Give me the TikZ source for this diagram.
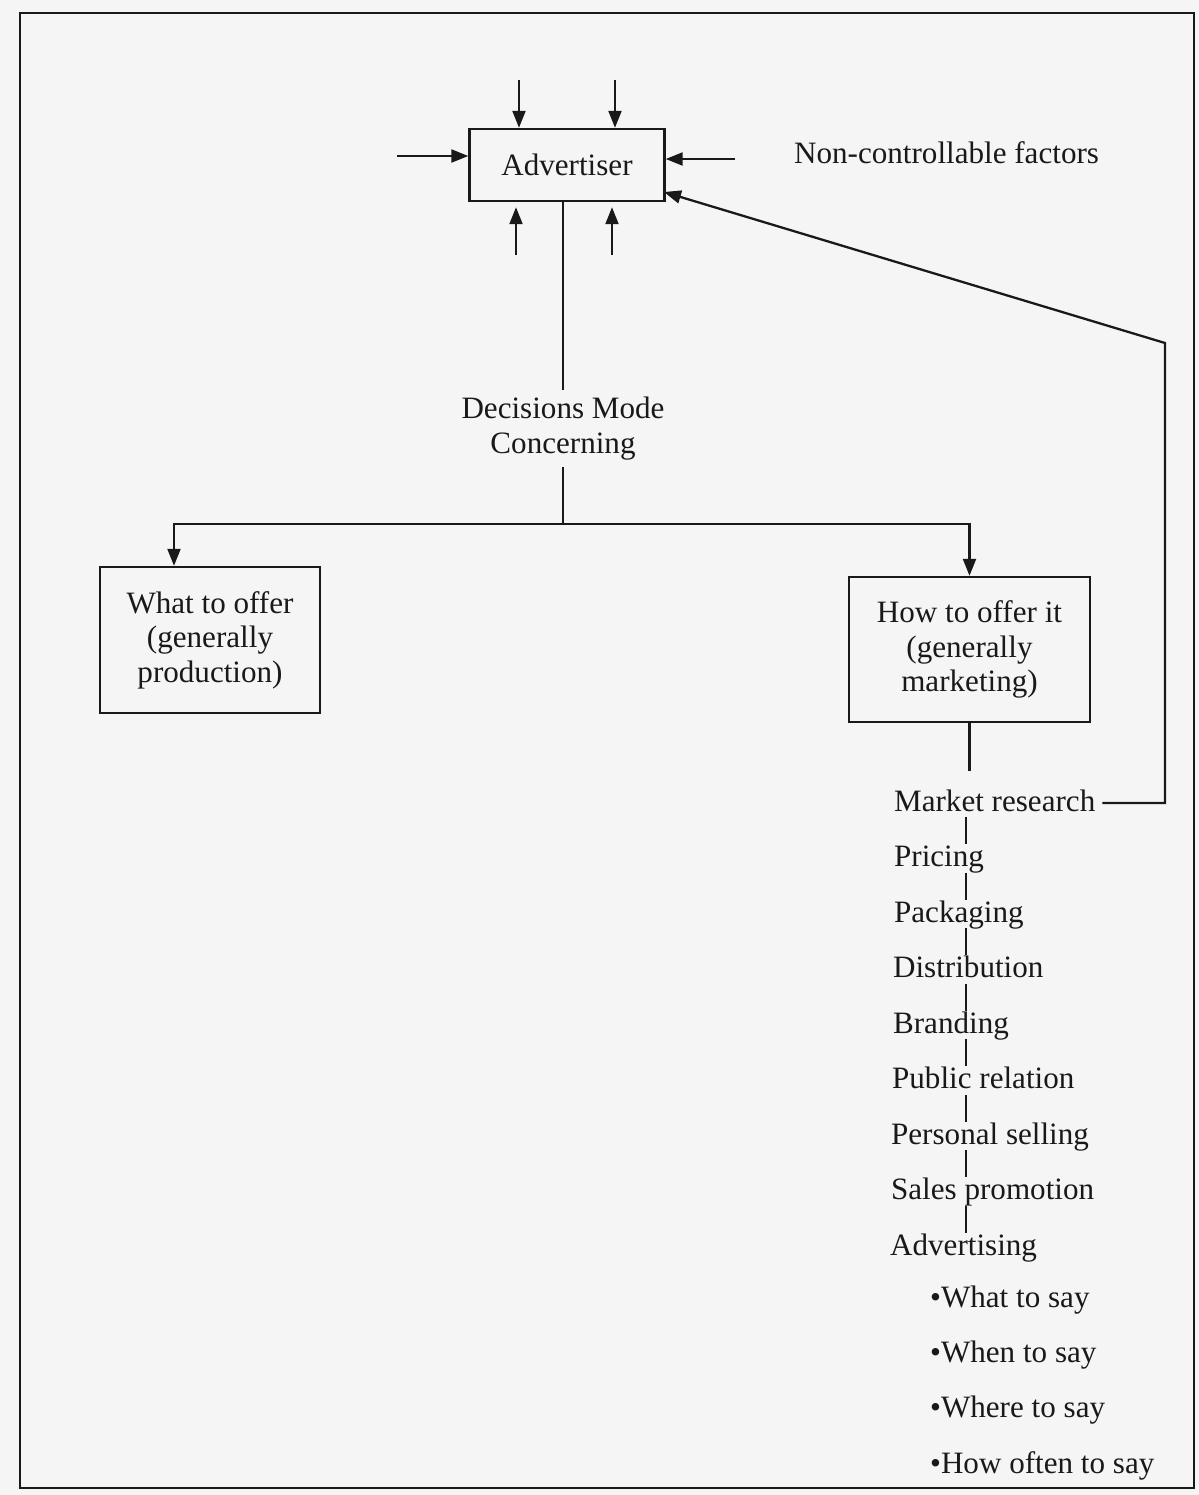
\documentclass[tikz,border=0pt]{standalone}
\usepackage{fontspec}
\setmainfont{Liberation Serif}
\usetikzlibrary{arrows.meta}

\tikzset{
  box/.style={draw, line width=1.4pt, align=center, inner sep=0pt},
  item/.style={anchor=base west, inner sep=0pt, text height=12pt, text depth=3pt},
  arr/.style={-{Triangle[length=0.34cm,width=0.26cm]}},
}

\begin{document}
\begin{tikzpicture}[x=0.02cm, y=-0.02cm, line width=1.3pt, color=black!90,
  font=\fontsize{17.7}{19.6}\selectfont]

\fill[black!4] (0,0) rectangle (1199,1495);
\useasboundingbox (0,0) rectangle (1199,1495);
\draw[line width=1.1pt] (20,13) rectangle (1194,1488);

\node[box, minimum width=3.9cm, minimum height=1.44cm] (adv) at (567,165) {Advertiser};
\node[anchor=west, inner sep=0pt] (ncf) at (793,153) {Non-controllable factors};

\coordinate (t1) at (519,80);
\coordinate (t2) at (615,80);
\coordinate (l1) at (397,156);
\coordinate (r1) at (735,159);
\coordinate (b1) at (516,255);
\coordinate (b2) at (612,255);

\draw[arr] (t1) -- (t1 |- adv.north);
\draw[arr] (t2) -- (t2 |- adv.north);
\draw[arr] (l1) -- (l1 -| adv.west);
\draw[arr] (r1) -- (r1 -| adv.east);
\draw[arr, shorten >=0.1cm] (b1) -- (b1 |- adv.south);
\draw[arr, shorten >=0.1cm] (b2) -- (b2 |- adv.south);

\node[align=center, inner sep=3.5pt] (dec) at (563,428.5) {Decisions Mode\\Concerning};
\draw (adv.south -| dec.north) -- (dec.north);

\coordinate (jn) at (563,524);
\coordinate (jl) at (174,524);

\node[box, minimum width=4.4cm, minimum height=2.92cm] (what) at (210,640) {What to offer\\(generally\\production)};
\node[box, minimum width=4.82cm, minimum height=2.9cm] (how) at (969.5,649.5) {How to offer it\\(generally\\marketing)};

\draw (dec.south) -- (jn);
\draw[arr] (jn) -- (jl) -- (jl |- what.north);
\draw[arr] (jn) -| (how.north);

\node[item] (mr) at (893,811) {Market research};
\node[item] (pr) at (893,866.5) {Pricing};
\node[item] (pk) at (893,922) {Packaging};
\node[item] (di) at (892,977.5) {Distribution};
\node[item] (br) at (892,1033) {Branding};
\node[item] (pu) at (891,1088.5) {Public relation};
\node[item] (ps) at (890,1144) {Personal selling};
\node[item] (sp) at (890,1199.5) {Sales promotion};
\node[item] (ad) at (889,1255) {Advertising};

\node[item] (w1) at (929,1307) {\textbullet What to say};
\node[item] (w2) at (929,1362) {\textbullet When to say};
\node[item] (w3) at (929,1417) {\textbullet Where to say};
\node[item] (w4) at (929,1473) {\textbullet How often to say};

\coordinate (lx) at (966,0);

\draw[shorten >=0.36cm] (how.south) -- (how.south |- mr.north);
\draw (mr.south -| lx) -- (pr.north -| lx);
\draw (pr.south -| lx) -- (pk.north -| lx);
\draw (pk.south -| lx) -- (di.north -| lx);
\draw (di.south -| lx) -- (br.north -| lx);
\draw (br.south -| lx) -- (pu.north -| lx);
\draw (pu.south -| lx) -- (ps.north -| lx);
\draw (ps.south -| lx) -- (sp.north -| lx);
\draw (sp.south -| lx) -- (ad.north -| lx);

\coordinate (fb) at (1165,343);
\coordinate (advin) at (664,192);
\draw[arr, shorten <=0.12cm] (mr.east) -- (mr.east -| fb) -- (fb) -- (advin);

\end{tikzpicture}
\end{document}
